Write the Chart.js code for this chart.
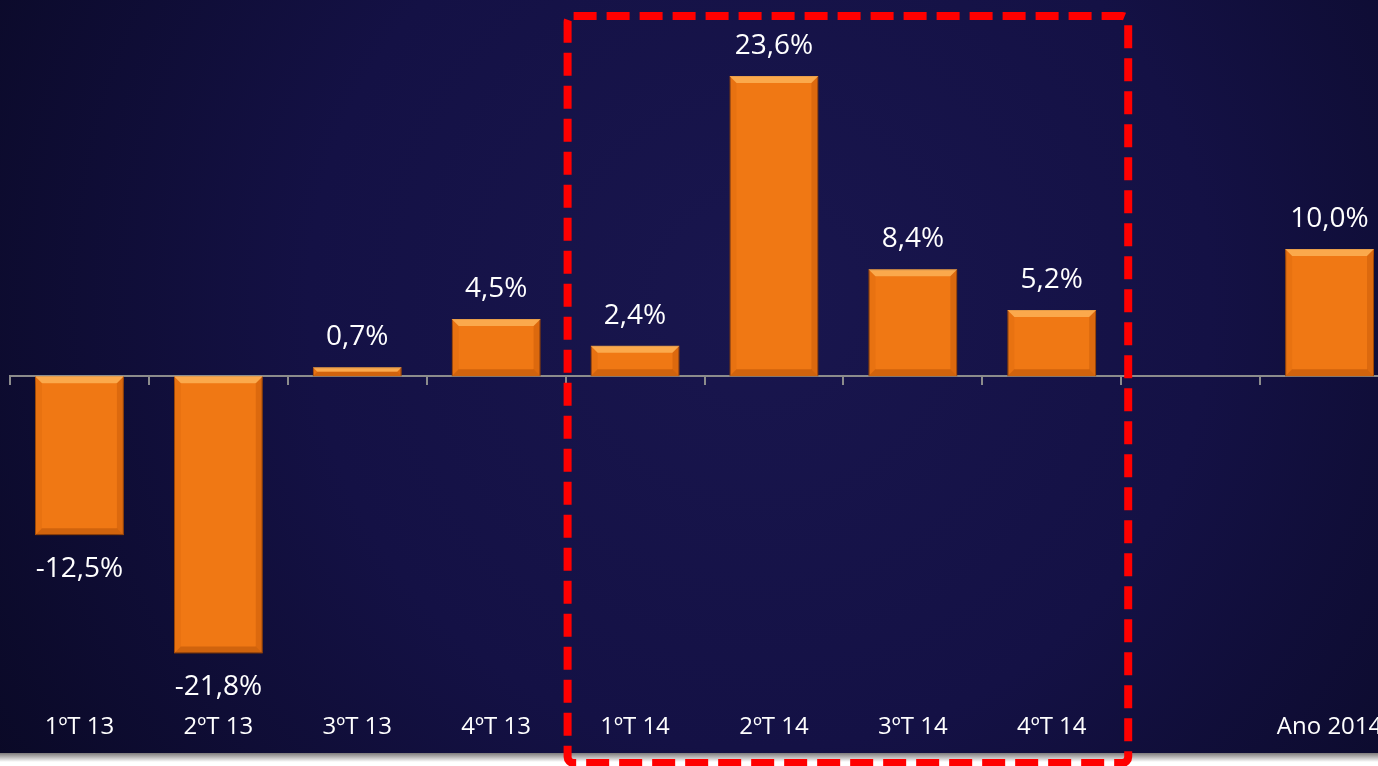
<!DOCTYPE html>
<html>
<head>
<meta charset="utf-8">
<script src="https://cdn.jsdelivr.net/npm/chart.js@4.4.1/dist/chart.umd.min.js"></script>
<style>
  html, body { margin: 0; padding: 0; background: #ffffff; overflow: hidden; }
  #chart { display: block; }
</style>
</head>
<body>
<canvas id="chart" width="1400" height="766"></canvas>
<script>
// quarter labels, the gap before the yearly bar is an empty category
const quarters = ['1ºT 13', '2ºT 13', '3ºT 13', '4ºT 13', '1ºT 14', '2ºT 14', '3ºT 14', '4ºT 14', '', 'Ano 2014'];
const growth = [-12.5, -21.8, 0.7, 4.5, 2.4, 23.6, 8.4, 5.2, null, 10.0];
const highlightFrom = 4;   // first quarter of 2014
const highlightTo = 7;     // last quarter of 2014

const fmt = v => v.toFixed(1).replace('.', ',') + '%';

const backgroundPlugin = {
    id: 'slideBackground',
    beforeDraw(chart) {
        const ctx = chart.ctx;
        const w = chart.width;
        ctx.save();
        const g = ctx.createRadialGradient(760, 300, 0, 760, 300, 900);
        g.addColorStop(0, '#19164e');
        g.addColorStop(0.5, '#141145');
        g.addColorStop(1, '#0a0926');
        ctx.fillStyle = g;
        ctx.fillRect(0, 0, w, 753);
        const s = ctx.createLinearGradient(0, 753, 0, 762);
        s.addColorStop(0, '#7d7a7a');
        s.addColorStop(1, '#ffffff');
        ctx.fillStyle = s;
        ctx.fillRect(0, 753, w, chart.height - 753);
        ctx.restore();
    }
};

const bevelPlugin = {
    id: 'bevelBars',
    beforeDatasetsDraw(chart) {
        const ctx = chart.ctx;
        ctx.save();
        ctx.shadowColor = 'rgba(0,0,0,0.55)';
        ctx.shadowBlur = 10;
        ctx.shadowOffsetY = 3;
    },
    afterDatasetsDraw(chart) {
        const ctx = chart.ctx;
        ctx.restore();
        const meta = chart.getDatasetMeta(0);
        ctx.save();
        meta.data.forEach((bar, i) => {
            if (growth[i] === null) return;
            const L = bar.x - bar.width / 2, R = bar.x + bar.width / 2;
            const T = Math.min(bar.y, bar.base), B = Math.max(bar.y, bar.base);
            const b = Math.min(7, (B - T) / 2);
            const poly = (pts, col) => {
                ctx.beginPath();
                ctx.moveTo(pts[0][0], pts[0][1]);
                pts.slice(1).forEach(p => ctx.lineTo(p[0], p[1]));
                ctx.closePath();
                ctx.fillStyle = col;
                ctx.fill();
            };
            poly([[L, T], [R, T], [R - b, T + b], [L + b, T + b]], 'rgba(255,190,100,0.7)');
            poly([[L, T], [L + b, T + b], [L + b, B - b], [L, B]], 'rgba(190,80,0,0.15)');
            poly([[R, T], [R - b, T + b], [R - b, B - b], [R, B]], 'rgba(170,70,0,0.28)');
            poly([[L, B], [L + b, B - b], [R - b, B - b], [R, B]], 'rgba(150,60,0,0.35)');
        });
        // value labels
        ctx.fillStyle = '#ffffff';
        ctx.font = '28px "Open Sans"';
        ctx.textAlign = 'center';
        ctx.textBaseline = 'middle';
        meta.data.forEach((bar, i) => {
            const v = growth[i];
            if (v === null) return;
            const y = v >= 0 ? bar.y - 30 : bar.y + 34;
            ctx.fillText(fmt(v), bar.x, y);
        });
        ctx.restore();
    }
};

const framePlugin = {
    id: 'highlightFrame',
    afterDraw(chart) {
        const x = chart.scales.x;
        const half = (x.getPixelForValue(1) - x.getPixelForValue(0)) / 2;
        const left = x.getPixelForValue(highlightFrom) - half + 2;
        const right = x.getPixelForValue(highlightTo) + half + 7;
        const ctx = chart.ctx;
        ctx.save();
        ctx.strokeStyle = '#ff0000';
        ctx.lineWidth = 8;
        ctx.setLineDash([23, 10]);
        ctx.beginPath();
        ctx.roundRect(left, 16, right - left, 747, 6);
        ctx.stroke();
        ctx.restore();
    }
};

new Chart(document.getElementById('chart'), {
    type: 'bar',
    data: {
        labels: quarters,
        datasets: [{
            data: growth,
            backgroundColor: '#f07814',
            borderColor: '#c95f0c',
            borderWidth: 1,
            barPercentage: 0.64,
            categoryPercentage: 1.0
        }]
    },
    options: {
        responsive: false,
        animation: false,
        layout: { padding: { left: 10, right: 1, top: 20, bottom: 13 } },
        plugins: {
            legend: { display: false },
            tooltip: { enabled: false }
        },
        scales: {
            x: {
                offset: true,
                grid: { display: false },
                border: { display: false },
                ticks: {
                    color: '#ffffff',
                    padding: 11,
                    maxRotation: 0,
                    autoSkip: false,
                    font: { family: '"Open Sans"', size: 24 }
                }
            },
            x2: {
                type: 'category',
                position: { y: 0 },
                offset: true,
                ticks: { display: false },
                grid: { offset: true, drawOnChartArea: false, drawTicks: true, tickLength: 8, color: '#8c8c8c', lineWidth: 2 },
                border: { display: true, color: '#8c8c8c', width: 2 }
            },
            y: {
                display: false,
                min: -25,
                max: 28
            }
        }
    },
    plugins: [backgroundPlugin, bevelPlugin, framePlugin]
});
</script>
</body>
</html>
